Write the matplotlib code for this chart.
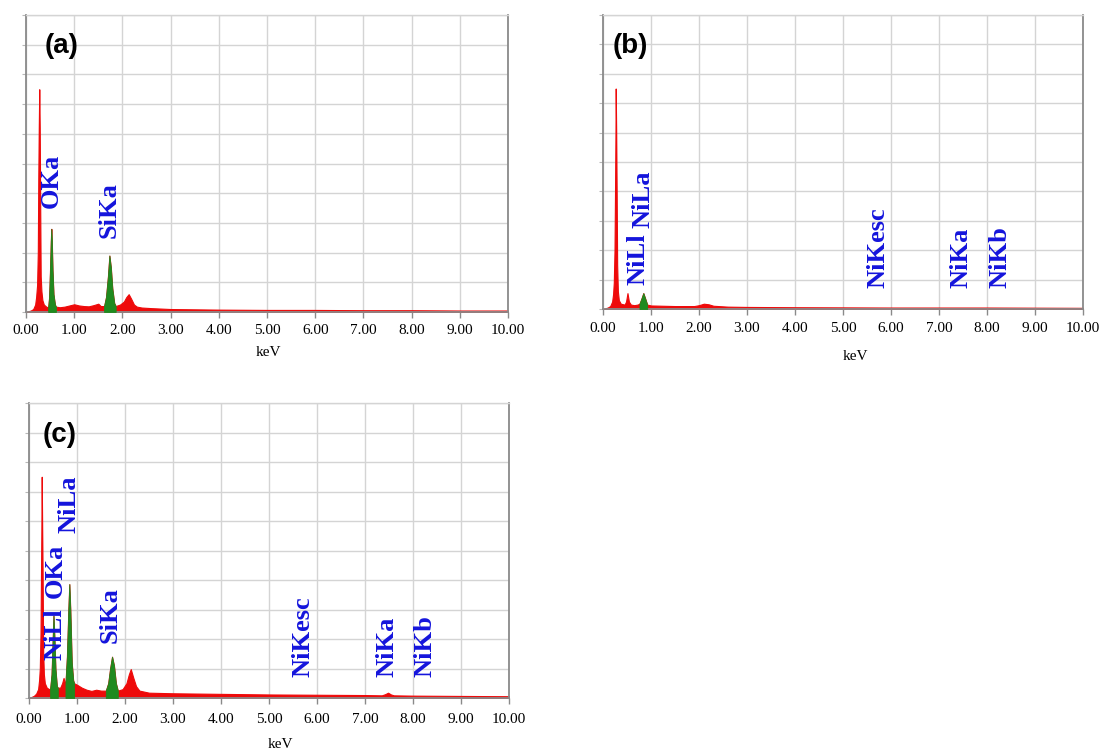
import numpy as np
import matplotlib
matplotlib.use("Agg")
import matplotlib.pyplot as plt

# ---------------- data: EDS spectra (energy in keV, intensity in % of full scale) ----------------
energy_a = [0.00, 0.10, 0.15, 0.19, 0.21, 0.23, 0.245, 0.255, 0.265, 0.275, 0.285, 0.295, 0.305,
            0.32, 0.34, 0.37, 0.42, 0.46, 0.48, 0.50, 0.515, 0.525, 0.535, 0.55, 0.57, 0.60, 0.62,
            0.70, 0.80, 0.90, 1.00, 1.10, 1.20, 1.30, 1.40, 1.50, 1.55, 1.62, 1.66, 1.70, 1.73,
            1.76, 1.79, 1.83, 1.86, 1.95, 2.03, 2.08, 2.13, 2.18, 2.24, 2.30, 2.40, 2.60, 3.00,
            3.50, 4.00, 5.00, 6.00, 7.00, 8.00, 9.00, 10.00]
counts_a = [0.0, 0.5, 1.0, 2.5, 5.0, 9.0, 20.0, 45.0, 62.0, 75.0, 62.0, 35.0, 12.0,
            7.0, 4.0, 2.5, 1.8, 1.5, 5.0, 15.0, 24.0, 28.0, 24.0, 14.0, 6.0, 2.5, 1.8,
            1.6, 1.8, 2.2, 2.6, 2.2, 2.0, 1.9, 2.3, 2.8, 2.0, 2.0, 5.0, 12.0, 19.0,
            15.0, 8.0, 3.0, 2.0, 2.5, 3.5, 5.0, 6.0, 4.5, 2.5, 1.8, 1.5, 1.3, 1.0,
            0.9, 0.8, 0.7, 0.7, 0.6, 0.6, 0.5, 0.5]
roi_a = [(0.46, 0.62), (1.62, 1.86)]
labels_a = ["OKa", "SiKa"]
label_kev_a = [0.53, 1.72]
label_y_a = [35.0, 25.0]

energy_b = [0.00, 0.10, 0.15, 0.19, 0.21, 0.225, 0.24, 0.25, 0.26, 0.265, 0.275, 0.285, 0.295,
            0.31, 0.33, 0.37, 0.45, 0.48, 0.51, 0.54, 0.58, 0.65, 0.72, 0.76, 0.80, 0.84, 0.88,
            0.92, 1.00, 1.50, 1.90, 2.00, 2.10, 2.20, 2.30, 2.60, 3.00, 4.00, 6.00, 8.00, 10.00]
counts_b = [0.0, 0.5, 1.0, 2.5, 5.0, 9.0, 20.0, 39.0, 60.0, 75.0, 60.0, 39.0, 15.0,
            6.0, 3.0, 1.8, 1.5, 2.5, 5.4, 2.5, 1.5, 1.3, 1.5, 1.8, 3.5, 5.4, 3.5,
            1.5, 1.2, 1.0, 1.0, 1.3, 1.8, 1.6, 1.1, 0.8, 0.7, 0.6, 0.5, 0.5, 0.4]
roi_b = [(0.76, 0.92)]
labels_b = ["NiLl", "NiLa", "NiKesc", "NiKa", "NiKb"]
label_kev_b = [0.73, 0.84, 5.73, 7.46, 8.27]
label_y_b = [8.2, 27.5, 7.1, 7.1, 7.1]

energy_c = [0.00, 0.10, 0.15, 0.19, 0.21, 0.225, 0.24, 0.25, 0.258, 0.265, 0.275, 0.285, 0.295,
            0.31, 0.33, 0.37, 0.42, 0.44, 0.47, 0.49, 0.51, 0.53, 0.55, 0.58, 0.60, 0.65, 0.69,
            0.72, 0.74, 0.76, 0.79, 0.82, 0.84, 0.86, 0.89, 0.92, 0.94, 1.00, 1.10, 1.20, 1.30,
            1.40, 1.50, 1.60, 1.65, 1.69, 1.73, 1.77, 1.81, 1.85, 1.95, 2.03, 2.08, 2.12, 2.17,
            2.23, 2.30, 2.50, 3.00, 4.00, 5.00, 6.00, 7.00, 7.35, 7.42, 7.48, 7.54, 7.60, 8.00,
            9.00, 10.00]
counts_c = [0.0, 0.7, 1.5, 3.0, 6.0, 10.0, 22.0, 42.0, 57.0, 75.0, 57.0, 40.0, 16.0,
            8.0, 5.0, 3.5, 3.0, 3.0, 8.0, 18.0, 28.0, 20.0, 10.0, 4.0, 3.5, 3.5, 5.0,
            6.8, 5.5, 5.0, 14.0, 30.0, 38.6, 30.0, 12.0, 6.0, 5.0, 4.5, 3.5, 2.8, 2.4,
            2.8, 2.5, 2.5, 5.0, 10.0, 14.0, 11.0, 5.0, 2.5, 3.0, 5.0, 8.0, 9.8, 7.0,
            4.0, 2.5, 1.8, 1.6, 1.4, 1.2, 1.1, 1.0, 0.9, 1.3, 1.8, 1.2, 0.9, 0.8,
            0.7, 0.6]
roi_c = [(0.44, 0.60), (0.76, 0.94), (1.60, 1.85)]
labels_c = ["NiLl", "OKa", "NiLa", "SiKa", "NiKesc", "NiKa", "NiKb"]
label_kev_c = [0.54, 0.54, 0.83, 1.70, 5.71, 7.46, 8.25]
label_y_c = [12.9, 34.0, 56.0, 18.6, 7.1, 7.1, 7.1]

panel_tags = ["(a)", "(b)", "(c)"]
xtick_values = [0.0, 1.0, 2.0, 3.0, 4.0, 5.0, 6.0, 7.0, 8.0, 9.0, 10.0]

# ---------------- styling ----------------
W, H = 1104, 751
RED = "#ee0a0a"
GREEN = "#1f8a1f"
BLUE = "#1414dc"
GRID = "#d4d4d4"
FRAME = "#8a8a8a"
SERIF = "Liberation Serif"

fig = plt.figure(figsize=(W / 100, H / 100), dpi=100)
fig.patch.set_facecolor("white")

# axes rectangles in pixels: left, top, right, bottom
boxes = [(26, 15, 508, 312), (603, 15, 1083, 309), (29, 403, 509, 698)]
kev_label_xy = [(268, 353), (855, 356), (280, 745)]
tag_xy = [(45, 46), (613, 46), (43, 435)]
tick_pad = [5, 5, 7]

panels = [
    (energy_a, counts_a, roi_a, labels_a, label_kev_a, label_y_a),
    (energy_b, counts_b, roi_b, labels_b, label_kev_b, label_y_b),
    (energy_c, counts_c, roi_c, labels_c, label_kev_c, label_y_c),
]

for i, (e, c, roi, labs, lk, ly) in enumerate(panels):
    l, t, r, b = boxes[i]
    ax = fig.add_axes([l / W, 1 - b / H, (r - l) / W, (b - t) / H])
    e = np.asarray(e)
    c = np.asarray(c)

    ax.set_xlim(0, 10)
    ax.set_ylim(0, 100)
    ax.set_xticks(xtick_values)
    ax.set_xticklabels([f"{v:.2f}" for v in xtick_values], fontfamily=SERIF, fontsize=11)
    ax.set_yticks(np.arange(0, 101, 10))
    ax.set_yticklabels([])
    ax.grid(True, color=GRID, linewidth=1.0)
    ax.set_axisbelow(True)
    ax.tick_params(axis="x", direction="out", length=4, width=1, color=FRAME, pad=tick_pad[i])
    ax.tick_params(axis="y", direction="out", length=3, width=0.8, color="#b8b8b8")
    for side in ("left", "right", "bottom"):
        ax.spines[side].set_color(FRAME)
        ax.spines[side].set_linewidth(1.3)
    ax.spines["top"].set_color(GRID)
    ax.spines["top"].set_linewidth(1.0)

    # spectrum: red body, green fill over the identified peak windows
    ax.fill_between(e, 0, c, color=RED, linewidth=0.8, edgecolor=RED, zorder=2)
    for lo, hi in roi:
        m = (e >= lo - 1e-9) & (e <= hi + 1e-9)
        ax.fill_between(e[m], 0, c[m], color=GREEN, linewidth=0.6, edgecolor=GREEN, zorder=3)

    for name, xk, yk in zip(labs, lk, ly):
        ax.text(xk, yk, name, rotation=90, ha="center", va="bottom", color=BLUE,
                fontfamily=SERIF, fontweight="bold", fontsize=19, zorder=4)

    tx, ty = tag_xy[i]
    fig.text(tx / W, 1 - ty / H, panel_tags[i], ha="left", va="center",
             fontfamily="Liberation Sans", fontweight="bold", fontsize=20)
    kx, ky = kev_label_xy[i]
    fig.text(kx / W, 1 - ky / H, "keV", ha="center", va="center",
             fontfamily=SERIF, fontsize=11)

fig.savefig("out.png", dpi=100, facecolor="white")
